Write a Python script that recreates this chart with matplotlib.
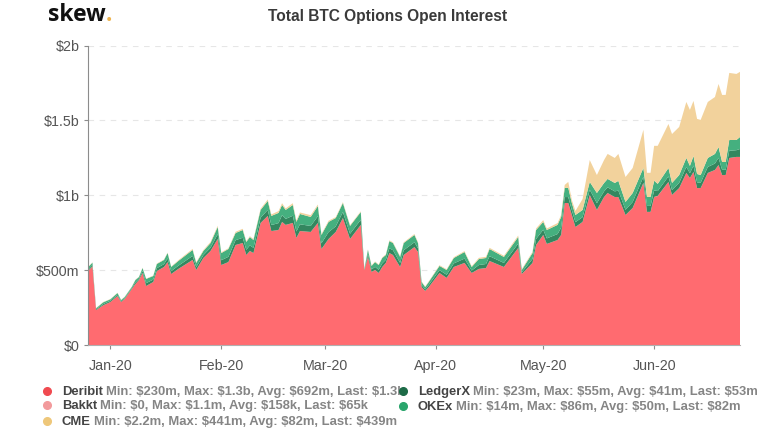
import pandas as pd
import matplotlib.pyplot as plt
import matplotlib.dates as mdates
from matplotlib.lines import Line2D

plt.rcParams['font.family'] = ['Liberation Sans', 'DejaVu Sans']
plt.rcParams['text.parse_math'] = False

# values, in $m
dates = ['2019-12-26', '2019-12-27', '2019-12-28', '2019-12-30', '2020-01-01', '2020-01-03', '2020-01-04',
         '2020-01-05', '2020-01-07', '2020-01-08', '2020-01-09', '2020-01-10', '2020-01-11', '2020-01-13',
         '2020-01-14', '2020-01-16', '2020-01-17', '2020-01-18', '2020-01-20', '2020-01-24', '2020-01-25',
         '2020-01-27', '2020-01-29', '2020-01-31', '2020-02-01', '2020-02-03', '2020-02-05', '2020-02-07',
         '2020-02-08', '2020-02-09', '2020-02-10', '2020-02-12', '2020-02-14', '2020-02-15', '2020-02-17',
         '2020-02-18', '2020-02-19', '2020-02-21', '2020-02-22', '2020-02-23', '2020-02-26', '2020-02-28',
         '2020-02-29', '2020-03-02', '2020-03-04', '2020-03-06', '2020-03-08', '2020-03-11', '2020-03-12',
         '2020-03-13', '2020-03-14', '2020-03-15', '2020-03-16', '2020-03-17', '2020-03-18', '2020-03-19',
         '2020-03-20', '2020-03-22', '2020-03-23', '2020-03-26', '2020-03-27', '2020-03-28', '2020-03-29',
         '2020-03-30', '2020-04-02', '2020-04-04', '2020-04-06', '2020-04-09', '2020-04-11', '2020-04-13',
         '2020-04-15', '2020-04-16', '2020-04-20', '2020-04-24', '2020-04-25', '2020-04-28', '2020-04-29',
         '2020-05-01', '2020-05-02', '2020-05-05', '2020-05-06', '2020-05-07', '2020-05-08', '2020-05-09',
         '2020-05-10', '2020-05-12', '2020-05-14', '2020-05-16', '2020-05-18', '2020-05-19', '2020-05-21',
         '2020-05-22', '2020-05-24', '2020-05-26', '2020-05-29', '2020-05-30', '2020-05-31', '2020-06-01',
         '2020-06-02', '2020-06-05', '2020-06-06', '2020-06-08', '2020-06-10', '2020-06-11', '2020-06-12',
         '2020-06-13', '2020-06-14', '2020-06-16', '2020-06-18', '2020-06-19', '2020-06-20', '2020-06-21',
         '2020-06-22', '2020-06-24', '2020-06-25']

deribit = [500, 525, 233, 265, 287, 327, 287, 307, 374, 407, 434, 481, 394, 421, 494, 521, 554, 474, 508, 568, 501,
           581, 628, 708, 534, 554, 668, 681, 601, 628, 614, 815, 862, 761, 768, 822, 802, 815, 715, 761, 755, 815,
           641, 708, 755, 848, 708, 802, 500, 588, 488, 501, 481, 521, 548, 614, 601, 521, 601, 654, 621, 387, 361,
           387, 481, 448, 521, 548, 481, 508, 514, 561, 521, 648, 474, 548, 668, 735, 675, 701, 735, 948, 948, 868,
           788, 822, 1002, 902, 988, 1015, 988, 988, 868, 915, 1082, 888, 888, 988, 995, 1089, 1002, 1048, 1149,
           1115, 1156, 1048, 1048, 1149, 1169, 1202, 1135, 1135, 1249, 1256, 1256]
bakkt = [0, 0, 0, 0, 0, 0, 0, 0, 0, 0, 0, 0, 0, 0, 0, 0, 0, 0, 0, 0, 0,
         0, 0, 0, 0, 0, 0, 0, 0, 0, 0, 0, 0, 0, 0, 0, 0, 0, 0, 0, 0, 0,
         0, 0, 0, 0, 0, 0, 0, 0, 0, 0, 0, 0, 0, 0, 0, 0, 0, 0, 0, 0, 0,
         0, 0, 0, 0, 0, 0, 0, 0, 0, 0, 0, 0, 0, 0, 0, 0, 0, 0, 0, 0, 0,
         0, 0, 0, 0, 0, 0, 0, 0, 0, 0, 1, 1, 1, 1, 1, 0, 0, 0, 0,
         0, 0, 0, 0, 0, 0, 0, 0, 0, 0, 0, 0]
ledgerx = [8, 10, 5, 8, 8, 8, 5, 5, 6, 11, 8, 13, 19, 16, 19, 19, 24, 19, 21, 27, 19,
           19, 21, 32, 32, 35, 32, 35, 35, 37, 35, 35, 40, 40, 46, 45, 40, 48, 43, 45, 40, 45,
           38, 46, 37, 40, 35, 34, 3, 19, 16, 21, 21, 24, 21, 32, 32, 27, 32, 32, 24, 14, 10,
           14, 19, 21, 24, 29, 16, 26, 27, 32, 27, 29, 11, 26, 40, 35, 37, 40, 48, 40, 40, 32,
           32, 32, 35, 45, 38, 38, 38, 43, 35, 40, 40, 40, 40, 43, 32, 37, 32, 35, 40, 32, 42,
           38, 35, 40, 43, 48, 35, 35, 48, 45, 53]
okex = [17, 15, 7, 12, 10, 12, 8, 8, 8, 16, 12, 20, 28, 24, 28, 28, 36, 28, 32, 40, 28,
        28, 32, 48, 48, 52, 48, 52, 52, 56, 52, 52, 60, 61, 68, 68, 60, 72, 64, 69, 60, 68,
        56, 68, 56, 60, 52, 52, 4, 28, 24, 32, 32, 36, 32, 48, 48, 40, 48, 49, 36, 20, 16,
        20, 28, 32, 36, 44, 24, 40, 40, 48, 40, 44, 16, 40, 60, 52, 56, 61, 72, 61, 61, 48,
        48, 48, 52, 68, 56, 56, 56, 65, 52, 60, 60, 60, 60, 65, 48, 56, 48, 52, 60, 49, 64,
        56, 52, 60, 64, 72, 52, 52, 72, 68, 80]
cme = [2, 2, 2, 2, 2, 2, 2, 2, 2, 2, 2, 2, 2, 3, 3, 3, 3, 3, 5, 7, 5,
       6, 7, 8, 5, 5, 8, 8, 6, 6, 6, 8, 10, 10, 12, 12, 10, 12, 10, 10, 12, 10,
       6, 8, 6, 6, 5, 5, 3, 4, 4, 4, 4, 4, 4, 5, 5, 5, 5, 6, 5, 4, 4,
       4, 5, 5, 5, 6, 5, 8, 8, 8, 8, 10, 6, 8, 10, 12, 10, 12, 14, 20, 40, 20,
       27, 73, 146, 120, 153, 167, 167, 180, 167, 167, 254, 161, 161, 233, 254, 294, 327, 321, 374,
       374, 368, 368, 368, 374, 380, 421, 448, 448, 448, 441, 435]

times = pd.to_datetime(dates)
colors = ['#ff6b70', '#f29a9c', '#34875f', '#45b07f', '#f2d29c']

fig = plt.figure(figsize=(7.75, 4.33), dpi=100)
ax = fig.add_axes([88 / 775, 1 - 345 / 433, 652 / 775, 299.5 / 433])

ax.stackplot(times, deribit, bakkt, ledgerx, okex, cme, colors=colors, linewidth=0)

ax.set_ylim(0, 2000)
ax.set_xlim(pd.Timestamp('2019-12-25 18:00'), pd.Timestamp('2020-06-25 00:00'))
ax.set_yticks([0, 500, 1000, 1500, 2000])
ax.set_yticklabels(['$0', '$500m', '$1b', '$1.5b', '$2b'])
ax.xaxis.set_major_locator(mdates.MonthLocator())
ax.xaxis.set_major_formatter(mdates.DateFormatter('%b-%y'))
ax.grid(axis='y', color='#e6e6e6', linestyle=(0, (5, 5)), linewidth=0.8)
ax.set_axisbelow(True)
ax.spines['top'].set_visible(False)
ax.spines['right'].set_visible(False)
ax.spines['left'].set_color('#8c8c8c')
ax.spines['bottom'].set_color('#b0b0b0')
ax.tick_params(axis='y', colors='#8c8c8c', labelcolor='#555555', labelsize=10.3, length=3, width=0.8, pad=3)
ax.tick_params(axis='x', colors='#8c8c8c', labelcolor='#555555', labelsize=10.3, length=3, width=0.8, pad=7)


def px(x, y):
    return x / 775, 1 - y / 433


fig.text(*px(388, 16), 'Total BTC Options Open Interest', ha='center', va='center',
         fontsize=11.2, fontweight='bold', color='#3a3a3a')

renderer = fig.canvas.get_renderer()
logo = fig.text(*px(48, 21), 'skew', ha='left', va='baseline', family='Open Sans',
                fontsize=16.5, fontweight='bold', color='#111111')
logo_end = logo.get_window_extent(renderer).x1
fig.text(logo_end / 775, 1 - 21 / 433, '.', ha='left', va='baseline', family='Open Sans',
         fontsize=16.5, fontweight='bold', color='#eeb44f')

# legend, two columns
names = ['Deribit', 'Bakkt', 'CME', 'LedgerX', 'OKEx']
stats = ['Min: $230m, Max: $1.3b, Avg: $692m, Last: $1.3b',
         'Min: $0, Max: $1.1m, Avg: $158k, Last: $65k',
         'Min: $2.2m, Max: $441m, Avg: $82m, Last: $439m',
         'Min: $23m, Max: $55m, Avg: $41m, Last: $53m',
         'Min: $14m, Max: $86m, Avg: $50m, Last: $82m']
dot_colors = ['#f04a50', '#f29a9c', '#eec77a', '#1d6b47', '#2aa56c']
legend_x = [47, 47, 47, 403, 403]
legend_y = [391, 405, 421, 391, 406]

for name, stat, col, lx, ly in zip(names, stats, dot_colors, legend_x, legend_y):
    t = fig.text(*px(lx + 15, ly + 4), name, ha='left', va='baseline', fontsize=9.4,
                 fontweight='bold', color='#444444')
    end = t.get_window_extent(renderer).x1
    fig.text(end / 775 + 3 / 775, 1 - (ly + 4) / 433, stat, ha='left', va='baseline', fontsize=9.4,
             fontweight='bold', color='#858585')

for col, lx, ly in zip(dot_colors, legend_x, legend_y):
    fig.add_artist(Line2D([lx / 775], [1 - ly / 433], marker='o', markersize=5.5, color=col,
                          linestyle='none', transform=fig.transFigure, zorder=5))

fig.savefig('out.png', dpi=100)
